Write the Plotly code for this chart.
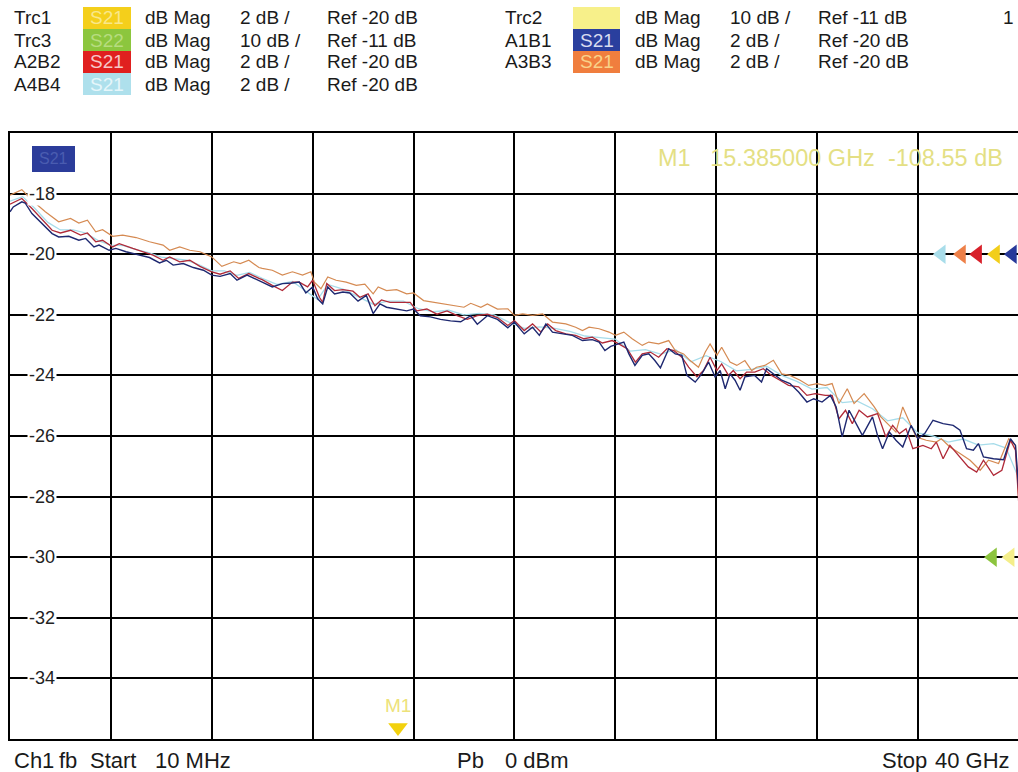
import plotly.graph_objects as go

# ---------------- data (frequency GHz, dB) ----------------
a1b1 = [(0, -18.60), (0.13, -18.44), (0.47, -18.27), (0.6, -18.31), (0.87, -18.66), (1.27, -18.99),
        (1.67, -19.32), (1.93, -19.43), (2.33, -19.41), (2.73, -19.54), (3.0, -19.48), (3.33, -19.76),
        (3.53, -19.70), (3.93, -19.87), (4.2, -19.81), (4.6, -19.92), (5.13, -20.03), (5.53, -20.11),
        (5.93, -20.29), (6.2, -20.20), (6.47, -20.36), (6.87, -20.31), (7.27, -20.44), (7.67, -20.53),
        (8.0, -20.69), (8.33, -20.73), (8.73, -20.64), (9.0, -20.86), (9.4, -20.69), (9.8, -20.86),
        (10.0, -20.92), (10.4, -21.08), (10.8, -20.97), (11.2, -20.95), (11.47, -20.92), (11.73, -21.28),
        (12.0, -21.08), (12.2, -21.47), (12.4, -21.64), (12.6, -21.08), (12.87, -21.31), (13.2, -21.25),
        (13.47, -21.28), (13.8, -21.55), (14.13, -21.36), (14.4, -21.96), (14.67, -21.64), (14.93, -21.75),
        (15.33, -21.81), (15.73, -21.87), (16.0, -21.81), (16.27, -22.03), (16.67, -22.07), (17.07, -22.15),
        (17.47, -22.20), (17.87, -22.23), (18.27, -22.03), (18.53, -22.31), (18.93, -22.03), (19.33, -22.15),
        (19.74, -22.43), (20.0, -22.24), (20.39, -22.63), (20.72, -22.41), (20.99, -22.68), (21.25, -22.30),
        (21.51, -22.57), (21.91, -22.63), (22.3, -22.68), (22.7, -22.85), (23.09, -22.82), (23.36, -22.90),
        (23.59, -23.18), (23.82, -23.04), (24.08, -22.96), (24.34, -22.90), (24.54, -23.29), (24.78, -23.67),
        (25.07, -23.34), (25.33, -23.29), (25.57, -23.51), (25.79, -23.75), (26.12, -23.12), (26.38, -23.29),
        (26.64, -23.34), (26.84, -24.00), (27.17, -24.22), (27.43, -23.95), (27.7, -23.56), (27.96, -24.05),
        (28.16, -23.84), (28.36, -24.44), (28.55, -23.95), (28.75, -24.16), (28.95, -24.49), (29.14, -24.05),
        (29.53, -24.00), (29.8, -24.22), (30.0, -23.78), (30.27, -23.95), (30.6, -24.16), (30.93, -24.27),
        (31.27, -24.55), (31.6, -24.88), (31.87, -24.77), (32.2, -24.88), (32.53, -24.66), (32.76, -25.04),
        (33.0, -26.03), (33.27, -25.15), (33.47, -25.48), (33.8, -25.98), (34.2, -25.37), (34.4, -25.98),
        (34.6, -26.42), (34.87, -25.87), (35.13, -26.14), (35.4, -26.36), (35.73, -25.65), (36.0, -26.09),
        (36.27, -25.92), (36.6, -25.48), (37.0, -25.59), (37.4, -25.65), (37.67, -25.81), (37.93, -26.42),
        (38.2, -26.47), (38.4, -26.25), (38.6, -26.69), (39.0, -26.75), (39.4, -26.78), (39.67, -26.09),
        (39.87, -26.31), (40.0, -27.79)]

a2b2 = [(0, -18.35), (0.47, -18.16), (0.87, -18.49), (1.27, -18.86), (1.67, -19.21), (2.0, -19.30),
        (2.4, -19.21), (2.8, -19.37), (3.07, -19.30), (3.4, -19.59), (3.67, -19.54), (4.07, -19.76),
        (4.33, -19.65), (4.87, -19.81), (5.27, -19.92), (5.67, -20.03), (6.07, -20.20), (6.33, -20.09),
        (6.73, -20.25), (7.13, -20.20), (7.53, -20.40), (8.0, -20.58), (8.33, -20.66), (8.73, -20.55),
        (9.07, -20.80), (9.47, -20.64), (9.87, -20.80), (10.0, -20.84), (10.4, -21.03), (10.8, -21.20),
        (11.2, -20.92), (11.47, -20.92), (11.8, -21.08), (12.0, -20.86), (12.27, -21.42), (12.4, -21.59),
        (12.56, -20.97), (12.87, -21.20), (13.2, -21.17), (13.6, -21.22), (13.87, -21.42), (14.2, -21.31),
        (14.47, -21.70), (14.73, -21.51), (15.07, -21.59), (15.47, -21.59), (15.87, -21.59), (16.13, -21.87),
        (16.53, -21.81), (16.93, -21.98), (17.33, -21.87), (17.73, -22.03), (18.13, -22.15), (18.53, -22.03),
        (18.93, -21.98), (19.33, -22.09), (19.74, -22.35), (20.0, -22.19), (20.39, -22.52), (20.72, -22.30),
        (21.05, -22.57), (21.32, -22.30), (21.64, -22.52), (22.04, -22.63), (22.43, -22.68), (22.76, -22.79),
        (23.09, -22.74), (23.49, -22.93), (23.88, -22.85), (24.14, -22.96), (24.47, -23.12), (24.8, -23.56),
        (25.07, -23.29), (25.39, -23.23), (25.72, -23.40), (26.05, -23.12), (26.32, -23.18), (26.64, -23.40),
        (26.91, -23.73), (27.24, -24.05), (27.5, -23.84), (27.76, -23.40), (28.03, -23.84), (28.22, -23.62),
        (28.49, -24.00), (28.68, -23.84), (28.95, -24.11), (29.21, -23.89), (29.53, -23.89), (29.87, -23.78),
        (30.2, -24.00), (30.53, -24.16), (30.87, -24.33), (31.27, -24.38), (31.6, -24.66), (31.93, -24.60),
        (32.33, -24.66), (32.6, -24.66), (32.87, -25.43), (33.13, -25.15), (33.4, -25.59), (33.67, -25.15),
        (34.0, -25.37), (34.4, -25.26), (34.73, -26.03), (35.0, -25.65), (35.27, -25.92), (35.53, -25.76),
        (35.8, -26.42), (36.2, -26.31), (36.53, -26.42), (36.73, -26.20), (37.0, -26.75), (37.27, -26.31),
        (37.67, -26.69), (38.0, -27.02), (38.33, -27.19), (38.6, -26.80), (39.0, -27.30), (39.33, -27.13),
        (39.67, -26.14), (39.87, -26.47), (40.0, -28.23)]

a3b3 = [(0, -18.05), (0.47, -17.87), (0.87, -18.22), (1.4, -18.60), (1.93, -18.93), (2.4, -18.82),
        (2.73, -18.97), (3.07, -18.88), (3.4, -19.26), (3.67, -19.19), (4.07, -19.41), (4.47, -19.37),
        (5.0, -19.45), (5.53, -19.59), (6.07, -19.70), (6.33, -19.87), (6.73, -19.76), (7.13, -19.87),
        (7.53, -19.92), (8.0, -20.09), (8.4, -20.40), (8.87, -20.25), (9.13, -20.31), (9.47, -20.20),
        (9.87, -20.44), (10.0, -20.47), (10.4, -20.53), (10.8, -20.69), (11.2, -20.58), (11.6, -20.69),
        (11.93, -20.58), (12.07, -20.92), (12.33, -21.14), (12.6, -20.75), (12.93, -20.86), (13.33, -20.92),
        (13.73, -21.03), (14.07, -20.99), (14.4, -21.31), (14.6, -21.08), (14.93, -21.20), (15.33, -21.17),
        (15.73, -21.31), (16.0, -21.28), (16.4, -21.53), (16.8, -21.59), (17.2, -21.64), (17.6, -21.70),
        (18.0, -21.75), (18.27, -21.62), (18.67, -21.75), (18.93, -21.64), (19.33, -21.81), (19.74, -21.80),
        (20.0, -22.02), (20.33, -21.97), (20.72, -22.02), (21.12, -21.97), (21.51, -22.24), (22.04, -22.30),
        (22.43, -22.41), (22.7, -22.52), (22.96, -22.41), (23.36, -22.46), (23.75, -22.57), (24.01, -22.68),
        (24.34, -22.57), (24.67, -22.79), (25.07, -23.01), (25.33, -22.90), (25.72, -22.96), (26.12, -22.85),
        (26.38, -23.18), (26.71, -23.29), (26.97, -23.51), (27.3, -23.73), (27.57, -23.23), (27.76, -22.96),
        (28.03, -23.34), (28.22, -23.07), (28.55, -23.56), (28.82, -23.67), (29.14, -23.51), (29.41, -23.84),
        (29.6, -23.73), (29.93, -23.67), (30.27, -23.50), (30.6, -23.95), (30.93, -24.00), (31.33, -24.16),
        (31.67, -24.33), (32.0, -24.27), (32.33, -24.33), (32.6, -24.27), (32.87, -24.93), (33.2, -24.44),
        (33.47, -24.93), (33.87, -24.60), (34.27, -25.04), (34.53, -25.37), (34.8, -25.59), (35.13, -25.87),
        (35.4, -25.04), (35.67, -25.54), (35.93, -26.03), (36.33, -26.14), (36.73, -26.20), (36.93, -26.09),
        (37.27, -26.36), (37.67, -26.58), (38.07, -26.80), (38.47, -27.13), (38.8, -26.80), (39.2, -26.91),
        (39.6, -26.09), (39.87, -26.31), (40.0, -28.12)]

a4b4 = [(0, -18.25), (0.5, -18.10), (1.0, -18.50), (1.5, -18.95), (2.0, -19.20), (2.5, -19.20), (3.0, -19.30),
        (3.5, -19.55), (4.0, -19.70), (4.5, -19.72), (5.0, -19.85), (5.5, -19.95), (6.0, -20.10), (6.5, -20.15),
        (7.0, -20.20), (7.5, -20.35), (8.0, -20.55), (8.5, -20.55), (9.0, -20.70), (9.5, -20.60), (10.0, -20.80),
        (10.6, -21.00), (11.2, -20.90), (11.7, -21.20), (12.2, -21.50), (12.6, -21.00), (13.2, -21.15),
        (13.8, -21.40), (14.4, -21.65), (15.0, -21.55), (15.6, -21.55), (16.2, -21.80), (16.8, -21.90),
        (17.4, -21.85), (18.0, -22.00), (18.6, -21.95), (19.2, -22.00), (19.8, -22.25), (20.4, -22.45),
        (21.0, -22.40), (21.6, -22.45), (22.2, -22.55), (22.8, -22.70), (23.4, -22.75), (24.0, -22.80),
        (24.6, -23.20), (25.2, -23.15), (25.8, -23.30), (26.4, -23.15), (27.0, -23.55), (27.6, -23.35),
        (28.2, -23.55), (28.8, -23.85), (29.4, -23.80), (30.0, -23.70), (30.6, -24.00), (31.2, -24.20),
        (31.8, -24.45), (32.4, -24.40), (33.0, -24.90), (33.6, -24.85), (34.2, -25.10), (34.8, -25.50),
        (35.4, -25.40), (36.0, -25.90), (36.6, -26.00), (37.2, -26.20), (37.8, -26.10), (38.4, -26.30),
        (39.0, -26.25), (39.5, -26.40), (40.0, -27.40)]

y_tick_labels = [-18, -20, -22, -24, -26, -28, -30, -32, -34]

marker_freq = 15.385        # GHz, marker M1
marker_readout = "M1\u00a0\u00a0\u00a015.385000\u00a0GHz\u00a0\u00a0-108.55\u00a0dB"

# reference-level arrows at right edge: (level dB, x GHz, colour)
ref_arrows = [(-20, 36.93, "#A8DDEA"), (-20, 37.73, "#EE8048"), (-20, 38.37, "#D8202A"),
              (-20, 39.08, "#F2CE1A"), (-20, 39.75, "#27399A"),
              (-30, 38.96, "#8CC43E"), (-30, 39.66, "#F4EE8A")]

header_rows = [
    # (label, box colour, box text, box text colour, format, scale, ref, column, row)
    ("Trc1", "#F4CF1B", "S21", "#F9E88A", "dB Mag", "2 dB /", "Ref -20 dB", 0, 0),
    ("Trc3", "#8CC63E", "S22", "#B7DC80", "dB Mag", "10 dB /", "Ref -11 dB", 0, 1),
    ("A2B2", "#E0201F", "S21", "#F6C8C8", "dB Mag", "2 dB /", "Ref -20 dB", 0, 2),
    ("A4B4", "#AEE0EC", "S21", "#E6F6FA", "dB Mag", "2 dB /", "Ref -20 dB", 0, 3),
    ("Trc2", "#F7F08A", "", "#FFFFFF", "dB Mag", "10 dB /", "Ref -11 dB", 1, 0),
    ("A1B1", "#2A3F9E", "S21", "#D8DCF0", "dB Mag", "2 dB /", "Ref -20 dB", 1, 1),
    ("A3B3", "#F07E3E", "S21", "#F9D28A", "dB Mag", "2 dB /", "Ref -20 dB", 1, 2),
]

footer = [("Ch1", 12, "left"), ("fb", 57, "left"), ("Start", 88, "left"), ("10 MHz", 153, "left"),
          ("Pb", 455, "left"), ("0 dBm", 503, "left"), ("Stop", 880, "left"), ("40 GHz", 1012, "right")]

# ---------------- layout helpers ----------------
W, H = 1018, 772
ML, MR, MT, MB = 10, 0, 133, 33
PW = W - ML - MR
PH = H - MT - MB


def pxx(x):
    return (x - ML) / PW


def pxy(y):
    return (H - MB - y) / PH


FONT = "Liberation Sans, Arial, sans-serif"

fig = go.Figure()

traces = [("A4B4", a4b4, "#A6DCEA", 1.3), ("A3B3", a3b3, "#D58A52", 1.2),
          ("A2B2", a2b2, "#B02A38", 1.3), ("A1B1", a1b1, "#1E2870", 1.4)]
for name, pts, col, w in traces:
    fig.add_trace(go.Scatter(x=[p[0] for p in pts], y=[p[1] for p in pts], mode="lines",
                             name=name, line=dict(color=col, width=w), hoverinfo="skip"))

# reference arrows
fig.add_trace(go.Scatter(x=[r[1] for r in ref_arrows], y=[r[0] for r in ref_arrows], mode="markers",
                         marker=dict(symbol="triangle-left", size=17, color=[r[2] for r in ref_arrows],
                                     line=dict(width=0)),
                         cliponaxis=False, hoverinfo="skip"))

# marker M1
fig.add_trace(go.Scatter(x=[marker_freq], y=[-35.62], mode="markers",
                         marker=dict(symbol="triangle-down", size=17, color="#F2D10E", line=dict(width=0)),
                         cliponaxis=False, hoverinfo="skip"))

shapes = []
# dashed ref line at -20
shapes.append(dict(type="line", xref="x", yref="y", x0=36.62, x1=40, y0=-20, y1=-20,
                   line=dict(color="white", width=3), layer="below"))
shapes.append(dict(type="line", xref="x", yref="y", x0=36.62, x1=40, y0=-20, y1=-20,
                   line=dict(color="black", width=1.5, dash="4px,3px"), layer="below"))

annotations = []
# S21 box in diagram
shapes.append(dict(type="rect", xref="paper", yref="paper", x0=pxx(32), x1=pxx(75), y0=pxy(172), y1=pxy(146),
                   fillcolor="#2B3C9A", line=dict(width=0), layer="above"))
annotations.append(dict(xref="paper", yref="paper", x=pxx(53.5), y=pxy(159), text="S21", showarrow=False,
                        font=dict(family=FONT, size=16, color="#4A5CB0"), xanchor="center", yanchor="middle"))

# header
col_x = [dict(label=12, box0=83, box1=131, fmt=143, scale=238, ref=325),
         dict(label=503, box0=573, box1=620, fmt=633, scale=728, ref=816)]
row_y = [18, 40, 62, 84]
hfont = dict(family=FONT, size=19, color="#1a1a1a")
for label, bcol, btxt, btcol, fmt, scale, ref, c, r in header_rows:
    cx = col_x[c]
    yc = row_y[r]
    shapes.append(dict(type="rect", xref="paper", yref="paper", x0=pxx(cx["box0"]), x1=pxx(cx["box1"]),
                       y0=pxy(yc + 11), y1=pxy(yc - 11), fillcolor=bcol, line=dict(width=0)))
    if btxt:
        annotations.append(dict(xref="paper", yref="paper", x=pxx((cx["box0"] + cx["box1"]) / 2), y=pxy(yc),
                                text=btxt, showarrow=False, xanchor="center", yanchor="middle",
                                font=dict(family=FONT, size=19, color=btcol)))
    for key, txt in (("label", label), ("fmt", fmt), ("scale", scale), ("ref", ref)):
        annotations.append(dict(xref="paper", yref="paper", x=pxx(cx[key]), y=pxy(yc),
                                text=txt.replace(" ", "\u00a0"), showarrow=False, xanchor="left",
                                yanchor="middle", font=hfont))
annotations.append(dict(xref="paper", yref="paper", x=pxx(1016), y=pxy(18), text="1", showarrow=False,
                        xanchor="right", yanchor="middle", font=hfont))

# marker readout
annotations.append(dict(xref="paper", yref="paper", x=pxx(656), y=pxy(158), text=marker_readout,
                        showarrow=False, xanchor="left", yanchor="middle",
                        font=dict(family=FONT, size=23.5, color="#E4DF84")))
# M1 label above marker
annotations.append(dict(xref="x", yref="y", x=marker_freq, y=-34.9, text="M1", showarrow=False,
                        xanchor="center", yanchor="middle", font=dict(family=FONT, size=19, color="#EDE27A")))

# y tick labels inside plot
for v in y_tick_labels:
    annotations.append(dict(xref="paper", yref="y", x=pxx(27), y=v, text=str(v), showarrow=False,
                            xanchor="left", yanchor="middle", bgcolor="white", borderpad=1,
                            font=dict(family=FONT, size=18, color="#222222")))

# footer
for txt, x, anchor in footer:
    annotations.append(dict(xref="paper", yref="paper", x=pxx(x), y=pxy(760), text=txt.replace(" ", "\u00a0"),
                            showarrow=False, xanchor=anchor, yanchor="middle",
                            font=dict(family=FONT, size=22, color="#1a1a1a")))

fig.update_layout(
    width=W, height=H, margin=dict(l=ML, r=MR, t=MT, b=MB, pad=0),
    paper_bgcolor="white", plot_bgcolor="white", showlegend=False,
    shapes=shapes, annotations=annotations,
    xaxis=dict(range=[0, 39.97], tick0=0, dtick=4, showgrid=True, gridcolor="black", gridwidth=1.6,
               showticklabels=False, ticks="", zeroline=False, showline=True, linecolor="black",
               linewidth=2, mirror=True, fixedrange=True),
    yaxis=dict(range=[-36, -16], tick0=-36, dtick=2, showgrid=True, gridcolor="black", gridwidth=1.6,
               showticklabels=False, ticks="", zeroline=False, showline=True, linecolor="black",
               linewidth=2, mirror=False, fixedrange=True),
)

fig.write_html("out.html", config={"displayModeBar": False},
               post_script="document.body.style.margin='0px';document.body.style.overflow='hidden';")
